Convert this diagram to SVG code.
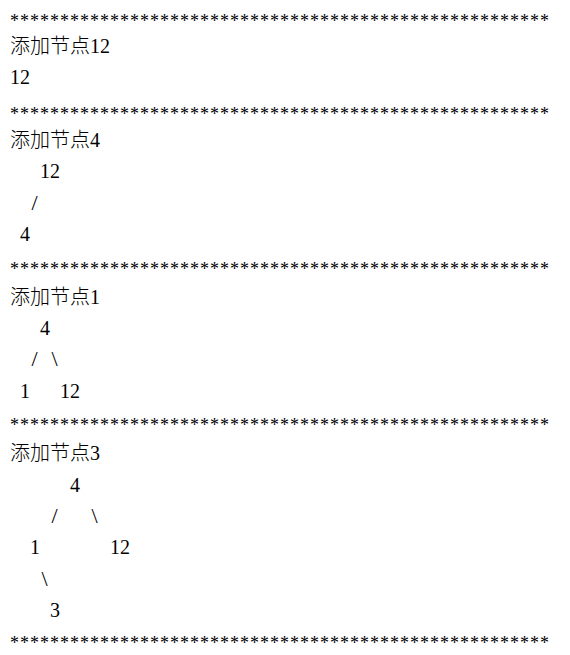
<svg xmlns="http://www.w3.org/2000/svg" width="570" height="655" viewBox="0 0 570 655">
<style>
text{font-family:"Liberation Serif","Noto Sans CJK SC",serif;font-size:20px;fill:#000}
.st{font-size:18px;letter-spacing:1px}
.cjk{font-family:"Noto Sans CJK SC","Liberation Serif",serif;font-size:20px;font-weight:300}
.sl{font-size:22px}
</style>
<rect width="570" height="655" fill="#fff"/>
<g id="sep">
<text class="st" x="10" y="26.5">******************************************************</text>
<text class="st" x="10" y="119.8">******************************************************</text>
<text class="st" x="10" y="275.3">******************************************************</text>
<text class="st" x="10" y="430.8">******************************************************</text>
<text class="st" x="10" y="648.5">******************************************************</text>
</g>
<g id="step1">
<text x="10" y="52.7"><tspan class="cjk">添加节点</tspan>12</text>
<text x="10" y="84">12</text>
</g>
<g id="step2">
<text x="10" y="146.7"><tspan class="cjk">添加节点</tspan>4</text>
<text x="40" y="178.1">12</text>
<text class="sl" x="31.5" y="209.5">/</text>
<text x="20" y="240.8">4</text>
</g>
<g id="step3">
<text x="10" y="303.5"><tspan class="cjk">添加节点</tspan>1</text>
<text x="40" y="334.9">4</text>
<text class="sl" x="31.5" y="366.2">/</text>
<text class="sl" x="51.5" y="366.2">\</text>
<text x="20" y="397.6">1</text>
<text x="60" y="397.6">12</text>
</g>
<g id="step4">
<text x="10" y="460.3"><tspan class="cjk">添加节点</tspan>3</text>
<text x="70" y="491.6">4</text>
<text class="sl" x="51.5" y="523">/</text>
<text class="sl" x="91.5" y="523">\</text>
<text x="30" y="554.3">1</text>
<text x="110" y="554.3">12</text>
<text class="sl" x="41.5" y="585.7">\</text>
<text x="50" y="617">3</text>
</g>
</svg>
